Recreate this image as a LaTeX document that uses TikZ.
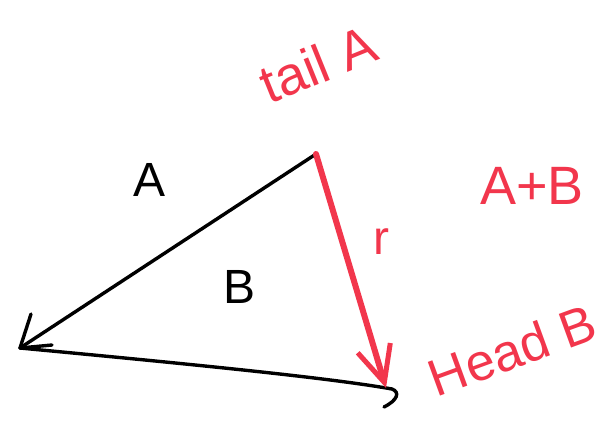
\documentclass[tikz,border=0pt]{standalone}
\usepackage{fontspec}
\setmainfont{Liberation Sans}
\usetikzlibrary{arrows.meta}
\definecolor{pen}{HTML}{F2364C}
\tikzset{
  blk/.style={draw=black, line width=3.4pt, line cap=round, line join=round},
  redline/.style={draw=pen, line width=6pt, line cap=round, line join=round},
  lbl/.style={inner sep=0pt, font=\fontsize{48}{52}\selectfont},
  redlbl/.style={lbl, text=pen}
}
\begin{document}
\begin{tikzpicture}[x=1pt,y=-1pt]
\useasboundingbox (0,0) rectangle (613,424);
\fill[white] (0,0) rectangle (613,424);
% vertices
\coordinate (T) at (316,154);
\coordinate (L) at (20,348);
\coordinate (R) at (392,389);
\coordinate (Rh) at (384,407);
\coordinate (Lb1) at (31,314);
\coordinate (Lb2) at (52,345);
\coordinate (Re) at (386,388);
% black vectors
\draw[blk] (T) -- (L);
\draw[blk] (L) -- (Lb1);
\draw[blk] (L) -- (Lb2);
\draw[blk] (L) .. controls (200,365) and (330,378) .. (R) .. controls (400,392) and (398,400) .. (Rh);
% red vector
\draw[redline, -{Straight Barb[length=36pt,width=34pt,line width=5pt]}] (T) -- (Re);
% labels
\node[lbl] (a) at (150,180) {A};
\node[lbl] (b) at (240,287) {B};
\node[redlbl] (r) at (381,242) {r};
\node[redlbl, font=\fontsize{54}{58}\selectfont] (ab) at (532,186) {A+B};
\node[redlbl, rotate=22, font=\fontsize{54}{58}\selectfont] (tail) at (318,64) {tail A};
\node[redlbl, rotate=20, font=\fontsize{52}{56}\selectfont] (head) at (512,350) {Head B};
\end{tikzpicture}
\end{document}
